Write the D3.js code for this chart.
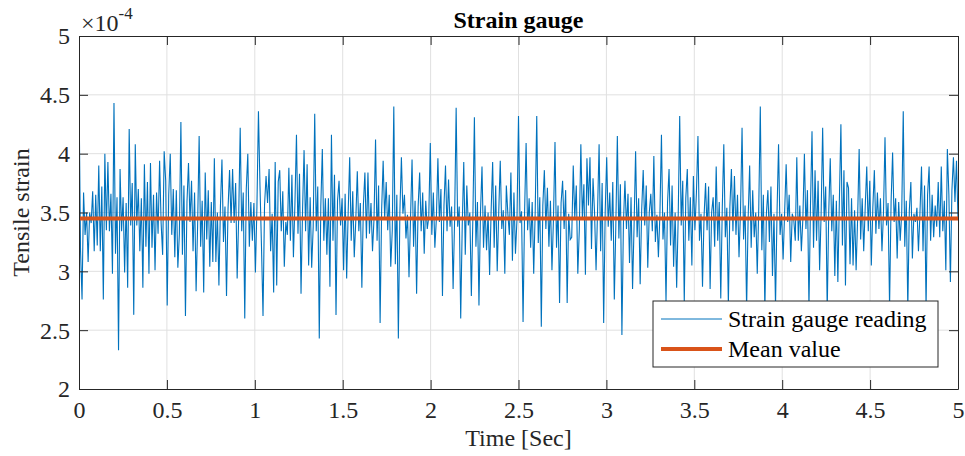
<!DOCTYPE html>
<html>
<head>
<meta charset="utf-8">
<script src="https://cdn.jsdelivr.net/npm/d3@7"></script>
<style>
    body { margin: 0; background: #fff; }
    svg { display: block; }
    svg text { font-family: "Liberation Serif", "Times New Roman", serif; }
</style>
</head>
<body>
<svg id="chart" width="965" height="456"></svg>
<script>
// Strain gauge readings, in units of 1e-4, sampled evenly over the record.
const strainReadings = [
    4.52, 3.18, 2.76, 3.67, 3.31, 3.5, 3.08, 3.5, 3.41, 3.68, 3.17, 3.65, 3.22, 3.9, 3.17, 3.72, 2.76, 4.0, 3.35, 3.93,
    3.34, 3.66, 2.98, 4.43, 3.15, 3.63, 2.33, 3.87, 3.34, 3.63, 2.99, 3.58, 2.86, 4.21, 3.39, 3.75, 2.63, 4.08, 3.39, 3.7,
    3.17, 3.62, 2.86, 3.91, 3.21, 3.76, 2.98, 3.92, 3.2, 3.65, 3.01, 3.67, 3.32, 3.94, 3.41, 3.14, 4.02, 3.77, 2.71, 3.65,
    4.0, 3.31, 3.7, 3.12, 3.69, 3.03, 3.32, 4.27, 3.14, 3.73, 2.62, 3.59, 3.92, 3.42, 3.77, 3.17, 3.67, 2.83, 3.39, 4.15,
    3.21, 3.6, 2.82, 3.84, 3.27, 3.69, 3.04, 3.59, 3.08, 3.96, 3.08, 3.5, 2.88, 3.55, 3.95, 3.25, 3.55, 2.79, 3.53, 3.86,
    3.41, 3.87, 3.41, 3.75, 2.94, 3.46, 4.22, 3.34, 3.67, 2.6, 3.7, 4.0, 3.21, 3.59, 3.26, 3.58, 2.99, 3.55, 4.36, 3.73,
    3.21, 2.62, 3.56, 3.81, 3.58, 3.87, 3.17, 3.49, 2.82, 3.93, 2.88,
    3.76, 3.86, 3.34, 3.68, 3.04, 3.42, 3.31, 3.88, 3.26, 3.82, 3.12, 3.58, 4.16, 3.32, 3.83, 2.81, 3.52, 4.03, 3.34, 3.91,
    3.05, 3.63, 3.03, 3.38, 4.34, 3.34, 3.72, 2.43, 3.55, 4.04, 3.26, 3.62, 3.14, 3.62, 2.87, 4.16, 3.26, 3.82, 2.63, 3.6,
    3.77, 3.39, 3.62, 3.01, 3.66, 2.94, 3.5, 3.97, 3.26, 3.68, 3.12, 3.43, 3.85, 3.34, 3.58, 2.86, 3.56, 3.84, 3.28, 3.84,
    3.32, 3.58, 3.17, 3.45, 4.12, 3.26, 3.73, 2.56, 3.52, 3.94, 3.45,
    3.76, 3.35, 3.65, 3.04, 3.35, 4.4, 3.06, 3.65, 2.43, 3.5, 3.97, 3.49, 3.65, 3.28, 3.48, 2.95, 3.45, 3.95, 3.21, 3.6,
    2.81, 3.55, 3.84, 3.34, 3.67, 3.15, 3.6, 3.36, 3.46, 4.09, 3.31, 3.67, 3.2, 3.45, 3.96, 3.42, 3.7, 2.79, 3.56, 3.9,
    3.34, 3.78, 3.38, 3.55, 2.85, 3.45, 4.39, 3.38, 3.55, 2.6, 3.39, 3.93, 3.14, 3.73, 3.39, 3.5, 2.79, 3.46, 4.31, 3.21,
    3.59, 2.71, 3.5, 3.89, 3.2, 3.56, 3.18, 3.5, 2.97, 3.51, 3.93, 3.2, 3.73, 3.0, 3.5, 3.94, 3.36,
    3.52, 2.98, 3.73, 3.49, 3.31, 3.84, 3.09, 3.67, 3.15, 3.44, 4.32, 3.41, 3.51, 2.57, 3.5, 4.09, 3.35, 3.62, 3.2, 3.59,
    2.98, 3.52, 4.32, 3.24, 3.63, 2.53, 3.56, 3.86, 3.36, 3.71, 3.21, 3.6, 3.01, 3.45, 4.1, 3.2, 3.56, 2.73, 3.58, 3.77,
    3.36, 3.69, 2.73, 3.49, 3.27, 3.29, 3.9, 3.45, 3.73, 2.98, 3.36, 4.08, 3.45, 3.74, 2.97, 3.96, 3.56, 3.97, 3.19, 3.79,
    3.5, 3.01, 3.52, 4.08, 3.17, 3.75, 2.56, 3.5, 3.97, 3.38, 3.67, 3.26, 3.76, 2.76, 3.39, 4.15,
    3.28, 3.74, 2.46, 3.41, 3.77, 3.36, 3.66, 3.07, 3.63, 2.85, 3.39, 4.02, 3.29, 3.62, 2.89, 3.52, 3.86, 3.39, 3.73, 3.03,
    3.5, 3.66, 3.34, 3.98, 3.25, 3.48, 3.12, 3.49, 4.16, 3.27, 3.5, 2.74, 3.58, 3.87, 3.22, 3.73, 3.04, 3.5, 2.86, 3.45,
    4.32, 3.39, 3.77, 2.74, 3.62, 3.87, 3.26, 3.63, 3.05, 3.81, 3.35, 3.67, 4.15, 3.26, 3.49, 2.87, 3.46, 3.75, 3.35, 3.72,
    2.85, 3.5, 3.63, 3.21, 3.89, 3.26, 3.59, 2.77, 3.54, 4.08, 3.29, 3.54, 2.72,
    3.55, 3.87, 3.34, 3.81, 3.31, 3.65, 3.12, 3.52, 4.22, 3.27, 3.56, 2.68, 3.45, 3.9, 3.2, 3.69, 3.29, 3.5, 2.98, 3.55,
    4.4, 3.18, 3.65, 2.66, 3.49, 3.69, 3.25, 3.72, 2.96, 3.49, 2.7, 3.5, 4.08, 3.31, 3.49, 3.1, 3.5, 3.91, 3.42, 3.65,
    3.08, 3.49, 3.44, 3.26, 3.97, 3.26, 3.56, 3.17, 3.45, 4.0, 3.36, 3.69, 2.69, 3.56, 4.19, 3.2, 3.86, 3.26, 3.77, 3.01,
    3.49, 4.22, 3.42, 3.72, 2.66, 3.5, 3.96, 3.34, 3.65, 2.96, 3.6, 2.91, 3.6, 4.25, 3.22, 3.86, 2.88,
    3.76, 3.71, 3.06, 3.62, 3.05, 3.52, 3.01, 3.45, 4.04, 3.27, 3.62, 3.17, 3.55, 3.89, 3.34, 3.77, 3.05, 3.54, 3.86, 3.32,
    3.67, 3.36, 3.62, 3.17, 3.5, 4.14, 3.39, 3.58, 2.7, 3.59, 4.01, 3.42, 3.62, 3.11, 3.59, 3.26, 3.5, 4.36, 3.21, 3.6,
    2.68, 3.52, 3.76, 3.11, 3.49, 3.42, 3.54, 3.17, 3.5, 3.89, 3.17, 3.73, 2.69, 3.65, 3.89, 3.26, 3.65, 3.29, 3.56, 3.38,
    3.76, 3.29, 3.89, 3.34, 3.6, 3.01, 4.04, 3.65, 2.91, 3.69, 3.97, 3.59, 3.94, 3.44
];

// Mean of the record (units of 1e-4).
const meanStrain = 3.45;

// Record length in seconds.
const duration = 5;

// Axis ticks and labels.
const timeTicks = [0, 0.5, 1, 1.5, 2, 2.5, 3, 3.5, 4, 4.5, 5];
const strainTicks = [2, 2.5, 3, 3.5, 4, 4.5, 5];
const strainExponent = "-4";

const titleText = "Strain gauge";
const xLabelText = "Time [Sec]";
const yLabelText = "Tensile strain";
const legendLabels = ["Strain gauge reading", "Mean value"];

// Display parameters.
const width = 965;
const height = 456;
const margin = {top: 36, right: 7, bottom: 67, left: 79};
const axisColour = "#262626";
const gridColour = "#e0e0e0";
const readingColour = "#0072BD";
const meanColour = "#D95319";
const fontSize = 24;
const tickLength = 9;

let svg = d3.select("#chart");

let innerW = width - margin.left - margin.right;
let innerH = height - margin.top - margin.bottom;

let x = d3.scaleLinear()
    .domain([0, duration])
    .range([margin.left, margin.left + innerW]);

let y = d3.scaleLinear()
    .domain([2, 5])
    .range([margin.top + innerH, margin.top]);

// Evenly spaced sample times.
let samples = strainReadings.map(function(v, i) {
    return {t: i * duration / (strainReadings.length - 1), v: v};
});

// Grid lines.
let grid = svg.append("g").attr("class", "grid");

grid.selectAll("line.vgrid")
    .data(timeTicks.slice(1, -1))
    .enter()
    .append("line")
    .attr("x1", d => x(d)).attr("x2", d => x(d))
    .attr("y1", y(2)).attr("y2", y(5))
    .attr("stroke", gridColour)
    .attr("stroke-width", 1);

grid.selectAll("line.hgrid")
    .data(strainTicks.slice(1, -1))
    .enter()
    .append("line")
    .attr("x1", x(0)).attr("x2", x(duration))
    .attr("y1", d => y(d)).attr("y2", d => y(d))
    .attr("stroke", gridColour)
    .attr("stroke-width", 1);

// Clip data to the plot box.
svg.append("clipPath")
    .attr("id", "plotClip")
    .append("rect")
    .attr("x", margin.left)
    .attr("y", margin.top)
    .attr("width", innerW)
    .attr("height", innerH);

let line = d3.line()
    .x(d => x(d.t))
    .y(d => y(d.v));

svg.append("path")
    .datum(samples)
    .attr("clip-path", "url(#plotClip)")
    .attr("fill", "none")
    .attr("stroke", readingColour)
    .attr("stroke-width", 1.1)
    .attr("d", line);

svg.append("line")
    .attr("x1", x(0)).attr("x2", x(duration))
    .attr("y1", y(meanStrain)).attr("y2", y(meanStrain))
    .attr("stroke", meanColour)
    .attr("stroke-width", 4);

// Axes: ticks point inward on all four sides, like MATLAB.
let axisBottom = d3.axisBottom(x)
    .tickValues(timeTicks)
    .tickFormat(d3.format("~g"))
    .tickSizeInner(-tickLength)
    .tickSizeOuter(0);

let axisTop = d3.axisTop(x)
    .tickValues(timeTicks)
    .tickFormat("")
    .tickSizeInner(-tickLength)
    .tickSizeOuter(0);

let axisLeft = d3.axisLeft(y)
    .tickValues(strainTicks)
    .tickFormat(d3.format("~g"))
    .tickSizeInner(-tickLength)
    .tickSizeOuter(0);

let axisRight = d3.axisRight(y)
    .tickValues(strainTicks)
    .tickFormat("")
    .tickSizeInner(-tickLength)
    .tickSizeOuter(0);

function styleAxis(g) {
    g.attr("font-family", null).attr("font-size", null);
    g.select(".domain").attr("stroke", axisColour);
    g.selectAll(".tick line").attr("stroke", axisColour);
    g.selectAll(".tick text")
        .attr("fill", axisColour)
        .style("font-size", fontSize + "px");
}

svg.append("g")
    .attr("transform", `translate(0,${y(2)})`)
    .call(axisBottom)
    .call(styleAxis)
    .selectAll(".tick text")
    .attr("y", 29)
    .attr("dy", null);

svg.append("g")
    .attr("transform", `translate(0,${y(5)})`)
    .call(axisTop)
    .call(styleAxis);

svg.append("g")
    .attr("transform", `translate(${x(0)},0)`)
    .call(axisLeft)
    .call(styleAxis)
    .selectAll(".tick text")
    .attr("x", -9)
    .attr("dy", "0.33em");

svg.append("g")
    .attr("transform", `translate(${x(duration)},0)`)
    .call(axisRight)
    .call(styleAxis);

// Exponent label above the y axis.
let expo = svg.append("text")
    .attr("x", x(0) + 2)
    .attr("y", 31)
    .attr("fill", axisColour)
    .style("font-size", fontSize + "px");
expo.append("tspan").text("\u00d710");
expo.append("tspan")
    .attr("dy", -12)
    .style("font-size", "17px")
    .text(strainExponent);

// Title and axis labels.
svg.append("text")
    .attr("x", (x(0) + x(duration)) / 2)
    .attr("y", 28)
    .attr("text-anchor", "middle")
    .attr("font-weight", "bold")
    .attr("fill", "#000")
    .style("font-size", fontSize + "px")
    .text(titleText);

svg.append("text")
    .attr("x", (x(0) + x(duration)) / 2)
    .attr("y", 446)
    .attr("text-anchor", "middle")
    .attr("fill", axisColour)
    .style("font-size", fontSize + "px")
    .text(xLabelText);

svg.append("text")
    .attr("transform", `translate(29,${(y(2) + y(5)) / 2}) rotate(-90)`)
    .attr("text-anchor", "middle")
    .attr("fill", axisColour)
    .style("font-size", fontSize + "px")
    .text(yLabelText);

// Legend box in the lower right corner.
let legend = svg.append("g")
    .attr("transform", "translate(653,301)");

legend.append("rect")
    .attr("width", 285)
    .attr("height", 66)
    .attr("fill", "#fff")
    .attr("stroke", axisColour)
    .attr("stroke-width", 1);

let legendItems = legend.selectAll("g.item")
    .data([
        {label: legendLabels[0], colour: readingColour, width: 1},
        {label: legendLabels[1], colour: meanColour, width: 4}
    ])
    .enter()
    .append("g")
    .attr("transform", (d, i) => `translate(0,${18 + i * 30})`);

legendItems.append("line")
    .attr("x1", 8).attr("x2", 69)
    .attr("stroke", d => d.colour)
    .attr("stroke-width", d => d.width);

legendItems.append("text")
    .attr("x", 75)
    .attr("y", 8)
    .attr("fill", "#000")
    .style("font-size", fontSize + "px")
    .text(d => d.label);
</script>
</body>
</html>
